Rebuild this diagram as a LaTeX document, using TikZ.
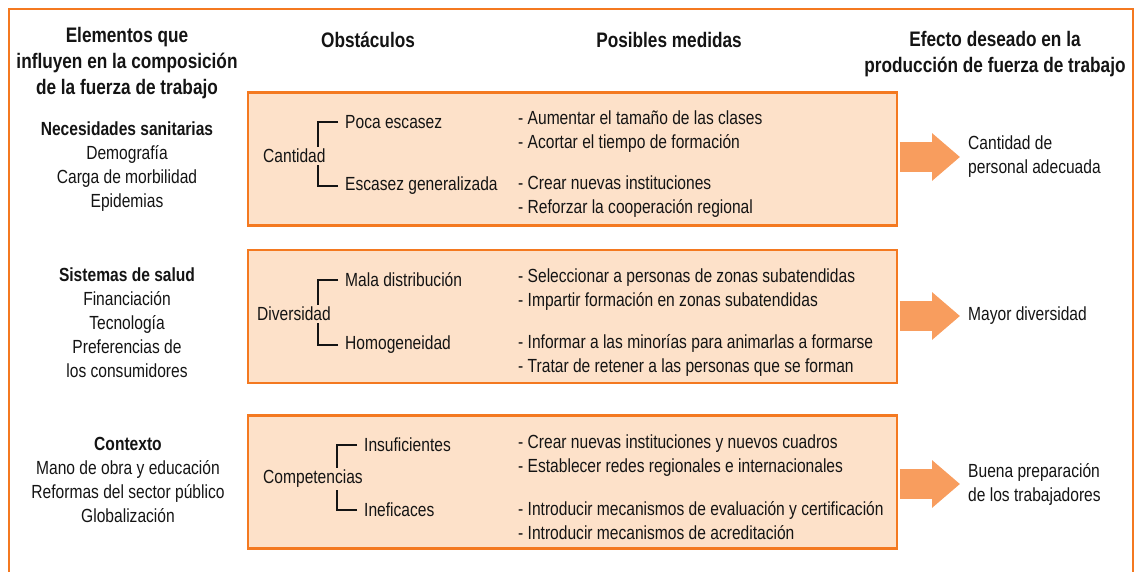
\documentclass[tikz,border=0pt]{standalone}
\usepackage{fontspec}
\setmainfont{Liberation Sans}[FakeStretch=0.82]
\usetikzlibrary{arrows.meta}
\definecolor{naranja}{HTML}{F47920}
\definecolor{melocoton}{HTML}{FDE1C9}
\definecolor{flecha}{HTML}{F89D5E}
\definecolor{texto}{HTML}{141414}
\begin{document}
\begin{tikzpicture}[x=1pt, y=-1pt,
    caja/.style={draw=naranja, line width=2.5pt, fill=melocoton, minimum width=649pt, minimum height=133pt},
    titulo/.style={align=center, font=\fontsize{21}{26}\selectfont\bfseries},
    elem/.style={align=center},
    medida/.style={anchor=west, align=left},
    llave/.style={draw=texto, line width=1.1pt},
    flechagorda/.style={draw=flecha, line width=30pt, -{Triangle[length=28pt,width=46pt]}}]
        \tikzstyle{every node}=[text=texto, inner sep=0pt, font=\fontsize{19}{24}\selectfont]

          \useasboundingbox (0,0) rectangle (1138,572);
          \draw[naranja, line width=2.5pt] (9,572) -- (9,9) -- (1133,9) -- (1133,572);

          \node[titulo] (h1) at (127,63) {Elementos que\\influyen en la composición\\de la fuerza de trabajo};
          \node[titulo] (h2) at (368,40) {Obstáculos};
          \node[titulo] (h3) at (669,40) {Posibles medidas};
          \node[titulo] (h4) at (995,54) {Efecto deseado en la\\producción de fuerza de trabajo};

          \node[elem] (e1) at (127,167) {\textbf{Necesidades sanitarias}\\Demografía\\Carga de morbilidad\\Epidemias};
          \node[elem] (e2) at (127,323) {\textbf{Sistemas de salud}\\Financiación\\Tecnología\\Preferencias de\\los consumidores};
          \node[elem] (e3) at (128,480) {\textbf{Contexto}\\Mano de obra y educación\\Reformas del sector público\\Globalización};

          \node[caja] (b1) at (572.5,159) {};
          \node[caja] (b2) at (572.5,316.5) {};
          \node[caja] (b3) at (572.5,482) {};

          \node[anchor=west, inner sep=2pt] (cant) at (261,156) {Cantidad};
          \node[anchor=west, inner sep=2pt] (div) at (255,314) {Diversidad};
          \node[anchor=west, inner sep=2pt] (comp) at (261,479) {Competencias};

          \node[anchor=west] (poca) at (345,122) {Poca escasez};
          \node[anchor=west] (esc) at (345,186) {Escasez generalizada};
          \node[anchor=west] (mala) at (345,280) {Mala distribución};
          \node[anchor=west] (homo) at (345,345) {Homogeneidad};
          \node[anchor=west] (insu) at (364,445) {Insuficientes};
          \node[anchor=west] (inef) at (364,510) {Ineficaces};

          \node[medida] (m1) at (518,132) {- Aumentar el tamaño de las clases\\- Acortar el tiempo de formación};
          \node[medida] (m2) at (518,197) {- Crear nuevas instituciones\\- Reforzar la cooperación regional};
          \node[medida] (m3) at (518,290) {- Seleccionar a personas de zonas subatendidas\\- Impartir formación en zonas subatendidas};
          \node[medida] (m4) at (518,355) {- Informar a las minorías para animarlas a formarse\\- Tratar de retener a las personas que se forman};
          \node[medida] (m5) at (518,455.5) {- Crear nuevas instituciones y nuevos cuadros\\- Establecer redes regionales e internacionales};
          \node[medida] (m6) at (518,520.5) {- Introducir mecanismos de evaluación y certificación\\- Introducir mecanismos de acreditación};

          \node[medida] (ef1) at (968,157) {Cantidad de\\personal adecuada};
          \node[medida] (ef2) at (968,316) {Mayor diversidad};
          \node[medida] (ef3) at (968,484) {Buena preparación\\de los trabajadores};

          \foreach \a/\b/\c in {poca/esc/cant, mala/homo/div, insu/inef/comp} {
            \coordinate (v) at ([xshift=-27pt]\a.west);
            \draw[llave] ([xshift=-7pt]\a.west) -| (v |- \c.north);
            \draw[llave] ([xshift=-7pt]\b.west) -| (v |- \c.south);
          }

          \foreach \b/\e in {b1/ef1, b2/ef2, b3/ef3}
            \draw[flechagorda] ([xshift=1.25pt]\b.east |- \e.west) -- ([xshift=-8pt]\e.west);

        \end{tikzpicture}
\end{document}
